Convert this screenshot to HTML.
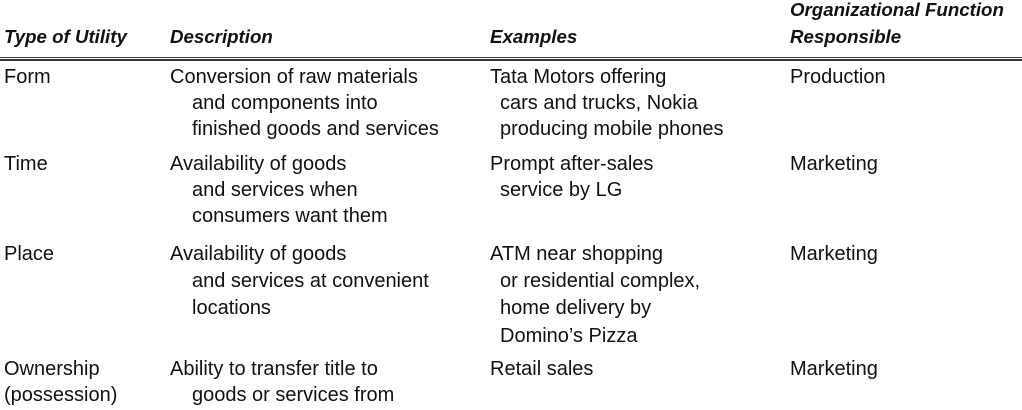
<!DOCTYPE html>
<html><head><meta charset="utf-8"><style>
body{margin:0;width:1022px;height:410px;background:#fff;position:relative;overflow:hidden;font-family:"Liberation Sans",sans-serif;color:#111;font-size:20px}
.t{position:absolute;white-space:nowrap;line-height:20px}
.h{font-style:italic;font-weight:bold;font-size:18.7px}
.r{position:absolute;left:0;width:1022px;height:1px;background:#333}
</style></head><body>
<div class="r" style="top:57px"></div>
<div class="r" style="top:59px;height:1.5px"></div>

<div class="t h" style="left:4px;top:27px">Type of Utility</div>
<div class="t h" style="left:170px;top:27px">Description</div>
<div class="t h" style="left:490px;top:27px">Examples</div>
<div class="t h" style="left:790px;top:0px">Organizational Function</div>
<div class="t h" style="left:790px;top:27px">Responsible</div>

<div class="t" style="left:4px;top:67px">Form</div>
<div class="t" style="left:170px;top:67px">Conversion of raw materials</div>
<div class="t" style="left:192px;top:93px">and components into</div>
<div class="t" style="left:192px;top:119px">finished goods and services</div>
<div class="t" style="left:490px;top:67px">Tata Motors offering</div>
<div class="t" style="left:500px;top:93px">cars and trucks, Nokia</div>
<div class="t" style="left:500px;top:119px">producing mobile phones</div>
<div class="t" style="left:790px;top:67px">Production</div>

<div class="t" style="left:4px;top:154px">Time</div>
<div class="t" style="left:170px;top:154px">Availability of goods</div>
<div class="t" style="left:192px;top:180px">and services when</div>
<div class="t" style="left:192px;top:206px">consumers want them</div>
<div class="t" style="left:490px;top:154px">Prompt after-sales</div>
<div class="t" style="left:500px;top:180px">service by LG</div>
<div class="t" style="left:790px;top:154px">Marketing</div>

<div class="t" style="left:4px;top:244px">Place</div>
<div class="t" style="left:170px;top:244px">Availability of goods</div>
<div class="t" style="left:192px;top:271px">and services at convenient</div>
<div class="t" style="left:192px;top:298px">locations</div>
<div class="t" style="left:490px;top:244px">ATM near shopping</div>
<div class="t" style="left:500px;top:271px">or residential complex,</div>
<div class="t" style="left:500px;top:298px">home delivery by</div>
<div class="t" style="left:500px;top:326px">Domino’s Pizza</div>
<div class="t" style="left:790px;top:244px">Marketing</div>

<div class="t" style="left:4px;top:359px">Ownership</div>
<div class="t" style="left:4px;top:385px">(possession)</div>
<div class="t" style="left:170px;top:359px">Ability to transfer title to</div>
<div class="t" style="left:192px;top:385px">goods or services from</div>
<div class="t" style="left:490px;top:359px">Retail sales</div>
<div class="t" style="left:790px;top:359px">Marketing</div>
</body></html>
